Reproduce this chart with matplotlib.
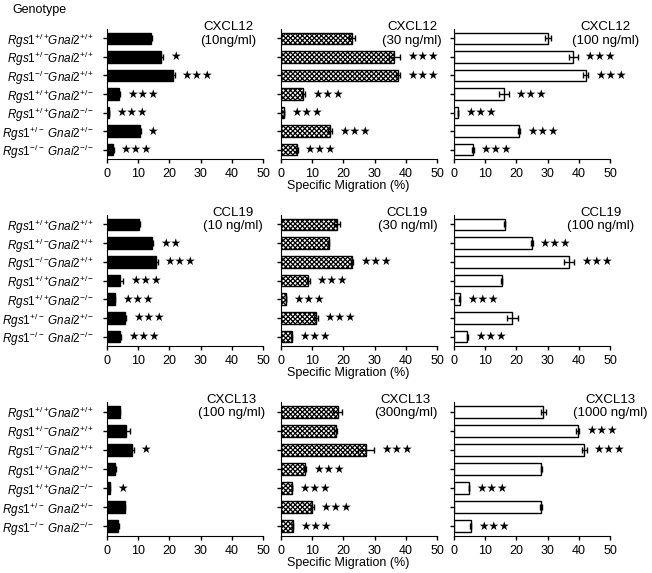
import matplotlib
matplotlib.use("Agg")
import matplotlib.pyplot as plt
import numpy as np

plt.rcParams['font.family'] = ['Liberation Sans', 'DejaVu Sans']
plt.rcParams['mathtext.fontset'] = 'custom'
plt.rcParams['mathtext.it'] = 'Liberation Sans:italic'
plt.rcParams['mathtext.rm'] = 'Liberation Sans'
plt.rcParams['hatch.linewidth'] = 0.9

genotypes = [
    r'$\it{Rgs1}^{+/+}\!\it{Gnai2}^{+/+}$',
    r'$\it{Rgs1}^{+/-}\!\it{Gnai2}^{+/+}$',
    r'$\it{Rgs1}^{-/-}\!\it{Gnai2}^{+/+}$',
    r'$\it{Rgs1}^{+/+}\!\it{Gnai2}^{+/-}$',
    r'$\it{Rgs1}^{+/+}\!\it{Gnai2}^{-/-}$',
    r'$\it{Rgs1}^{+/-}\ \it{Gnai2}^{+/-}$',
    r'$\it{Rgs1}^{-/-}\ \it{Gnai2}^{-/-}$',
]

titles = [
    ["CXCL12\n(10ng/ml)", "CXCL12\n(30 ng/ml)", "CXCL12\n(100 ng/ml)"],
    ["CCL19\n(10 ng/ml)", "CCL19\n(30 ng/ml)", "CCL19\n(100 ng/ml)"],
    ["CXCL13\n(100 ng/ml)", "CXCL13\n(300ng/ml)", "CXCL13\n(1000 ng/ml)"],
]

# CXCL12
cxcl12_10 = [14.0, 17.3, 21.0, 3.8, 0.6, 10.5, 1.9]
cxcl12_10_err = [0.4, 0.8, 0.7, 0.3, 0.1, 0.3, 0.2]
cxcl12_10_sig = ["", "*", "***", "***", "***", "*", "***"]
cxcl12_30 = [22.7, 36.3, 37.5, 7.2, 1.0, 15.7, 5.0]
cxcl12_30_err = [0.9, 1.8, 0.6, 0.5, 0.1, 0.7, 0.3]
cxcl12_30_sig = ["", "***", "***", "***", "***", "***", "***"]
cxcl12_100 = [30.1, 38.2, 42.2, 16.0, 1.3, 20.8, 6.1]
cxcl12_100_err = [1.0, 1.4, 0.7, 1.5, 0.1, 0.4, 0.2]
cxcl12_100_sig = ["", "***", "***", "***", "***", "***", "***"]

# CCL19
ccl19_10 = [10.3, 14.4, 15.7, 4.1, 2.5, 5.9, 4.3]
ccl19_10_err = [0.2, 0.3, 0.5, 1.0, 0.1, 0.3, 0.2]
ccl19_10_sig = ["", "**", "***", "***", "***", "***", "***"]
ccl19_30 = [17.9, 15.3, 22.7, 8.7, 1.6, 11.1, 3.4]
ccl19_30_err = [1.0, 0.2, 0.4, 0.5, 0.1, 0.6, 0.2]
ccl19_30_sig = ["", "", "***", "***", "***", "***", "***"]
ccl19_100 = [16.3, 24.9, 36.9, 15.3, 1.8, 18.7, 4.3]
ccl19_100_err = [0.2, 0.3, 1.7, 0.2, 0.1, 1.7, 0.2]
ccl19_100_sig = ["", "***", "***", "", "***", "", "***"]

# CXCL13
cxcl13_100 = [4.1, 6.0, 8.0, 2.6, 0.9, 5.7, 3.5]
cxcl13_100_err = [0.2, 1.3, 0.5, 0.2, 0.1, 0.2, 0.2]
cxcl13_100_sig = ["", "", "*", "", "*", "", ""]
cxcl13_300 = [18.2, 17.6, 27.3, 7.7, 3.5, 10.0, 3.7]
cxcl13_300_err = [1.5, 0.5, 2.5, 0.4, 0.1, 0.5, 0.2]
cxcl13_300_sig = ["", "", "***", "***", "***", "***", "***"]
cxcl13_1000 = [28.6, 39.7, 41.7, 28.0, 4.8, 28.0, 5.3]
cxcl13_1000_err = [0.8, 0.5, 0.8, 0.2, 0.1, 0.3, 0.1]
cxcl13_1000_sig = ["", "***", "***", "", "***", "", "***"]

values = [[cxcl12_10, cxcl12_30, cxcl12_100],
          [ccl19_10, ccl19_30, ccl19_100],
          [cxcl13_100, cxcl13_300, cxcl13_1000]]
errors = [[cxcl12_10_err, cxcl12_30_err, cxcl12_100_err],
          [ccl19_10_err, ccl19_30_err, ccl19_100_err],
          [cxcl13_100_err, cxcl13_300_err, cxcl13_1000_err]]
sigs = [[cxcl12_10_sig, cxcl12_30_sig, cxcl12_100_sig],
        [ccl19_10_sig, ccl19_30_sig, ccl19_100_sig],
        [cxcl13_100_sig, cxcl13_300_sig, cxcl13_1000_sig]]

xticks = [0, 10, 20, 30, 40, 50]

W, H = 652, 573
fig = plt.figure(figsize=(W / 100, H / 100), dpi=100)

col_left = [107, 281, 454]
col_width = 156
row_top = [29, 215, 402]
row_bottom = [159, 346, 536]
title_x = [[0.78, 0.84, 0.97], [0.81, 0.81, 0.94], [0.80, 0.80, 1.00]]
styles = [dict(color='black', edgecolor='black'),
          dict(color='white', edgecolor='black', hatch='xxxxxxx'),
          dict(color='white', edgecolor='black')]

y = np.arange(len(genotypes))
for r in range(3):
    for c in range(3):
        ax = fig.add_axes([col_left[c] / W, 1 - row_bottom[r] / H,
                           col_width / W, (row_bottom[r] - row_top[r]) / H])
        v = values[r][c]
        e = errors[r][c]
        ax.barh(y, v, height=0.62, linewidth=1.0, **styles[c])
        ax.errorbar(v, y, xerr=e, fmt='none', ecolor='black', elinewidth=1,
                    capsize=2.5, capthick=1)
        for i in range(len(v)):
            s = sigs[r][c][i]
            if s:
                ax.annotate('\u2605' * len(s), xy=(v[i] + e[i], y[i]),
                            xytext=(5, 0), textcoords='offset points',
                            ha='left', va='center', fontsize=8.5,
                            family='DejaVu Sans')
        ax.set_xlim(0, 50)
        ax.set_ylim(len(genotypes) - 0.5, -0.5)
        ax.set_xticks(xticks)
        ax.set_xticklabels([str(t) for t in xticks], fontsize=9)
        ax.set_yticks(y)
        if c == 0:
            ax.set_yticklabels(genotypes, fontsize=8.5)
        else:
            ax.set_yticklabels([])
        ax.spines['top'].set_visible(False)
        ax.spines['right'].set_visible(False)
        ax.tick_params(axis='both', direction='out', length=3, width=1)
        ax.tick_params(axis='y', pad=6)
        ax.text(title_x[r][c], 1.06, titles[r][c], transform=ax.transAxes,
                ha='center', va='top', fontsize=9.5, linespacing=1.15)
    fig.text(348 / W, 1 - (row_bottom[r] + 27) / H, 'Specific Migration (%)',
             ha='center', va='center', fontsize=9)

fig.text(12 / W, 1 - 10 / H, 'Genotype', ha='left', va='center', fontsize=9)

fig.savefig('out.png', dpi=100)
